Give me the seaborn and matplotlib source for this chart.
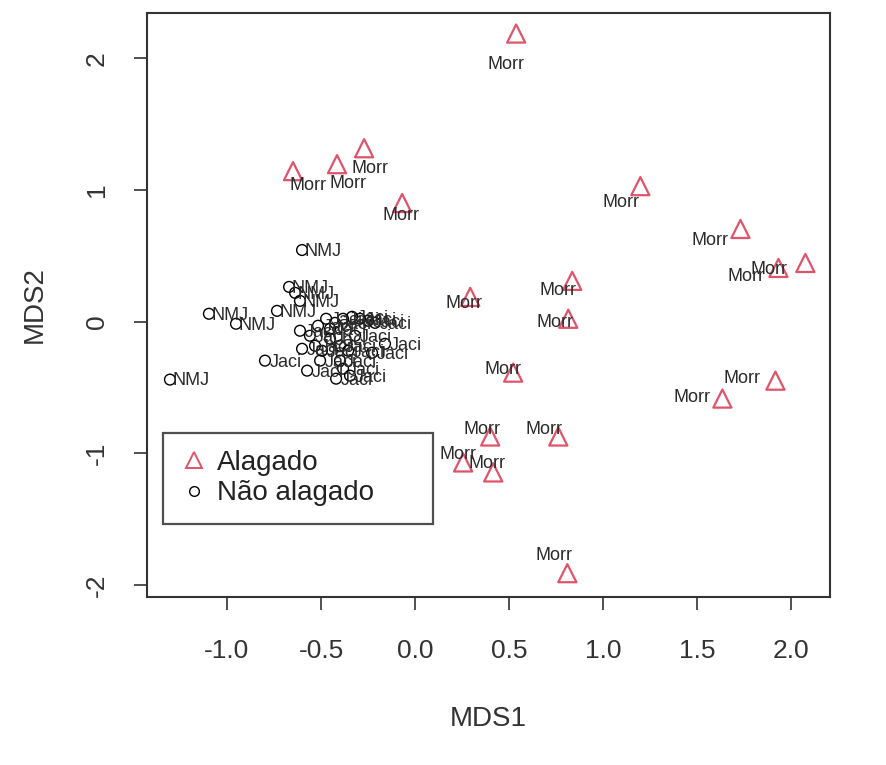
import matplotlib
matplotlib.use("Agg")
import matplotlib.pyplot as plt
from matplotlib.lines import Line2D
import seaborn as sns
import pandas as pd

# NMDS site scores, flooded sites (Alagado)
alagado_x = [0.537, -0.649, -0.415, -0.271, -0.069, 1.197, 1.729, 2.074, 1.931, 0.835,
             0.293, 0.814, 0.521, 1.915, 1.633, 0.399, 0.761, 0.255, 0.415, 0.809]
alagado_y = [2.189, 1.144, 1.197, 1.318, 0.902, 1.030, 0.705, 0.447, 0.409, 0.311,
             0.189, 0.023, -0.386, -0.447, -0.583, -0.871, -0.871, -1.068, -1.144, -1.909]
alagado_lab = ["Morr"] * 20

# NMDS site scores, non-flooded sites (Não alagado)
nao_x = [-1.303, -1.096, -0.952, -0.734, -0.601, -0.670, -0.638, -0.612,
         -0.612, -0.559, -0.516, -0.473, -0.426, -0.383, -0.335, -0.293, -0.250, -0.213,
         -0.532, -0.495, -0.452, -0.399, -0.356, -0.399, -0.383, -0.346, -0.420, -0.601,
         -0.574, -0.798, -0.229, -0.160, -0.452, -0.505, -0.319]
nao_y = [-0.439, 0.061, -0.015, 0.083, 0.545, 0.265, 0.220, 0.159,
         -0.068, -0.106, -0.030, 0.023, -0.008, 0.023, 0.038, 0.023, 0.008, -0.008,
         -0.182, -0.220, -0.129, -0.182, -0.220, -0.295, -0.356, -0.409, -0.432, -0.205,
         -0.371, -0.295, -0.235, -0.167, -0.053, -0.295, -0.106]
nao_lab = ["NMJ"] * 8 + ["Jaci"] * 27

# label offsets (pixels, right / down) for the flooded-site labels
morr_off = [(-10, 31), (15, 14), (11, 19), (6, 20), (-1, 12), (-19, 16), (-30, 12), (-59, 14),
            (-9, 2), (-14, 10), (-6, 7), (-13, 4), (-10, -3), (-33, -2), (-30, -1),
            (-8, -7), (-14, -7), (-5, -8), (-6, -9), (-13, -18)]

RED = "#DF536B"

df_a = pd.DataFrame({"MDS1": alagado_x, "MDS2": alagado_y, "site": alagado_lab})
df_n = pd.DataFrame({"MDS1": nao_x, "MDS2": nao_y, "site": nao_lab})

sns.set_style("white")
plt.rcParams["font.family"] = ["Liberation Sans", "DejaVu Sans"]

fig = plt.figure(figsize=(8.87, 7.65), dpi=100)
ax = fig.add_axes([147 / 887, 1 - 597 / 765, (830 - 147) / 887, (597 - 13) / 765])

sns.scatterplot(data=df_n, x="MDS1", y="MDS2", ax=ax, marker="o", s=60,
                color="black", facecolors="none", edgecolor="black", linewidth=1.0,
                legend=False, zorder=3)
sns.scatterplot(data=df_a, x="MDS1", y="MDS2", ax=ax, marker="^", s=170,
                color=RED, facecolors="none", edgecolor=RED, linewidth=1.6,
                legend=False, zorder=3)

txt_kw = dict(fontsize=13, color="#2a2a2a", ha="center", va="center",
              textcoords="offset points", zorder=4)
for (x, y, lab), (dx, dy) in zip(zip(alagado_x, alagado_y, alagado_lab), morr_off):
    ax.annotate(lab, (x, y), xytext=(dx * 0.72, -dy * 0.72), **txt_kw)
for x, y, lab in zip(nao_x, nao_y, nao_lab):
    ax.annotate(lab, (x, y), xytext=(15, -1), **txt_kw)

ax.set_xlim(-1.425, 2.205)
ax.set_ylim(-2.09, 2.345)
ax.set_xticks([-1.0, -0.5, 0.0, 0.5, 1.0, 1.5, 2.0])
ax.set_xticklabels(["-1.0", "-0.5", "0.0", "0.5", "1.0", "1.5", "2.0"])
ax.set_yticks([-2, -1, 0, 1, 2])
ax.set_yticklabels(["-2", "-1", "0", "1", "2"], rotation=90, va="center")
ax.tick_params(axis="both", direction="out", length=9.5, width=1.2, color="#333333",
               labelsize=19, labelcolor="#333333", bottom=True, left=True)
ax.tick_params(axis="x", pad=21)
ax.tick_params(axis="y", pad=18)
for sp in ax.spines.values():
    sp.set_visible(True)
    sp.set_color("#333333")
    sp.set_linewidth(1.5)

ax.set_xlabel("MDS1", fontsize=20, color="#333333", labelpad=31)
ax.set_ylabel("MDS2", fontsize=20, color="#333333", labelpad=27)

handles = [
    Line2D([], [], linestyle="none", marker="^", markersize=11, markerfacecolor="none",
           markeredgecolor=RED, markeredgewidth=1.4),
    Line2D([], [], linestyle="none", marker="o", markersize=7, markerfacecolor="none",
           markeredgecolor="black", markeredgewidth=1.0),
]
leg = ax.legend(handles, ["Alagado", "Não alagado"], loc="upper left",
                bbox_to_anchor=(0.023, 0.281, 0.396, 0.0), mode="expand",
                fontsize=20, frameon=True, fancybox=False, borderpad=0.62,
                labelspacing=0.15, handlelength=1.0, handletextpad=0.35,
                borderaxespad=0.0)
leg.get_frame().set_edgecolor("#222222")
leg.get_frame().set_linewidth(1.6)
for t in leg.get_texts():
    t.set_color("#222222")

fig.savefig("out.png", dpi=100, facecolor="white")
